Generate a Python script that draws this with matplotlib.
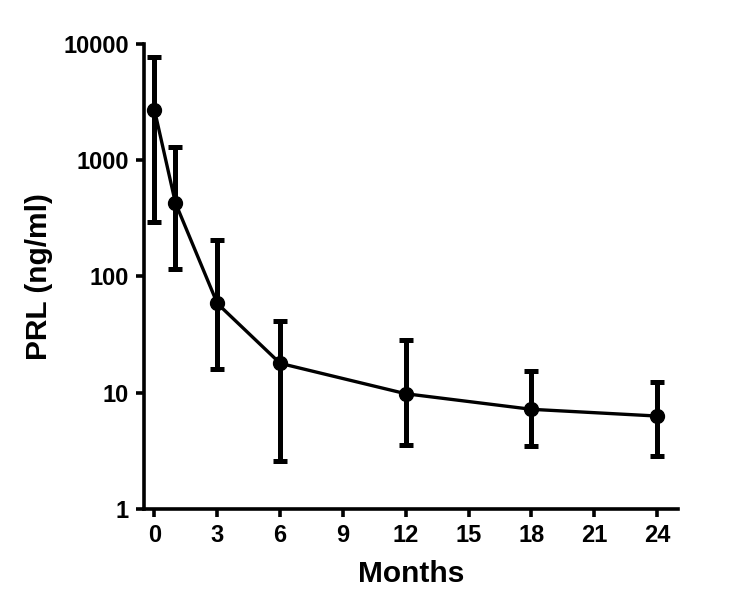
import matplotlib
matplotlib.use("Agg")
import matplotlib.pyplot as plt
from matplotlib.ticker import FixedLocator, NullLocator, FixedFormatter

# PRL over follow-up
months = [0, 1, 3, 6, 12, 18, 24]
prl_mean = [2710, 430, 58.6, 17.9, 9.8, 7.2, 6.3]
prl_low = [295, 115, 15.9, 2.6, 3.55, 3.5, 2.85]
prl_high = [7690, 1290, 205, 41, 28.6, 15.4, 12.4]

x_ticks = [0, 3, 6, 9, 12, 15, 18, 21, 24]
y_ticks = [1, 10, 100, 1000, 10000]
y_tick_labels = ["1", "10", "100", "1000", "10000"]

plt.rcParams['font.family'] = ['Liberation Sans', 'DejaVu Sans']
plt.rcParams['font.weight'] = 'bold'

fig = plt.figure(figsize=(7.5, 6.11), dpi=100)
ax = fig.add_axes([0.192, 0.167, 0.712, 0.761])

yerr = [[m - lo for m, lo in zip(prl_mean, prl_low)],
        [hi - m for m, hi in zip(prl_mean, prl_high)]]

ax.errorbar(months, prl_mean, yerr=yerr, color='black', marker='o',
            markersize=10, linewidth=2.4, elinewidth=3.6, capsize=5,
            capthick=3.6, clip_on=False, zorder=3)

ax.set_yscale('log')
ax.set_ylim(1, 10000)
ax.set_xlim(-0.5, 25)

ax.yaxis.set_major_locator(FixedLocator(y_ticks))
ax.yaxis.set_major_formatter(FixedFormatter(y_tick_labels))
ax.yaxis.set_minor_locator(NullLocator())
ax.set_xticks(x_ticks)

for side in ['top', 'right']:
    ax.spines[side].set_visible(False)
for side in ['left', 'bottom']:
    ax.spines[side].set_linewidth(2.6)

ax.tick_params(axis='both', which='major', direction='out', length=6,
               width=2.6, labelsize=17, pad=5)
for lbl in ax.get_xticklabels() + ax.get_yticklabels():
    lbl.set_fontweight('bold')

ax.set_xlabel('Months', fontsize=21.5, fontweight='bold', labelpad=9)
ax.set_ylabel('PRL (ng/ml)', fontsize=21.5, fontweight='bold')
ax.yaxis.set_label_coords(-0.170, 0.5)

fig.savefig('out.png', dpi=100)
